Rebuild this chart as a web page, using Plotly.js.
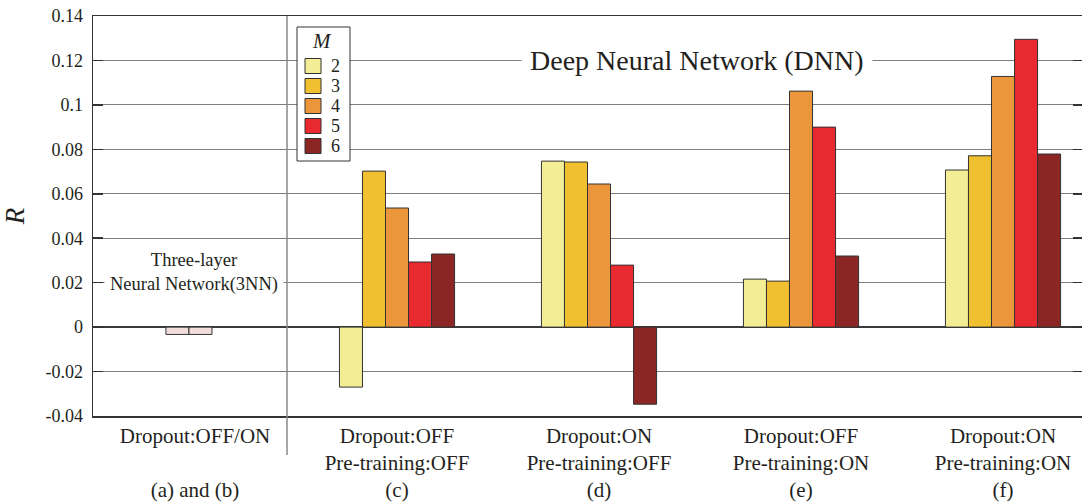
<!DOCTYPE html>
<html>
<head>
<meta charset="utf-8">
<script src="https://cdn.plot.ly/plotly-3.0.1.min.js"></script>
<style>html,body{margin:0;padding:0;overflow:hidden;background:#fff;}#chart{width:1083px;height:503px;}</style>
</head>
<body>
<div id="chart"></div>
<script>
// ---- data ----
const categories = ['(a) and (b)', '(c)', '(d)', '(e)', '(f)'];
const labelLine1 = ['Dropout:OFF/ON', 'Dropout:OFF', 'Dropout:ON', 'Dropout:OFF', 'Dropout:ON'];
const labelLine2 = ['\u00a0', 'Pre-training:OFF', 'Pre-training:OFF', 'Pre-training:ON', 'Pre-training:ON'];
const mNames = ['2', '3', '4', '5', '6'];
const rM2 = [null, -0.027, 0.0747, 0.0216, 0.0707];
const rM3 = [null, 0.0702, 0.0743, 0.0207, 0.0771];
const rM4 = [null, 0.0536, 0.0644, 0.1062, 0.1128];
const rM5 = [null, 0.0293, 0.0279, 0.0900, 0.1295];
const rM6 = [null, 0.0329, -0.0347, 0.0320, 0.0779];
const nnCategory = ['(a) and (b)'];
const rNNDropoutOff = [-0.0033];
const rNNDropoutOn = [-0.0033];
const yTickVals = [0.14, 0.12, 0.1, 0.08, 0.06, 0.04, 0.02, 0, -0.02, -0.04];
const yTickText = ['0.14', '0.12', '0.1', '0.08', '0.06', '0.04', '0.02', '0', '-0.02', '-0.04'];

// ---- style ----
const mColors = ['#f3ee96', '#f0c030', '#ec963c', '#e8292f', '#8b2625'];
const nnColor = '#f2dcdc';
const lineCol = '#333333';
const txtCol = '#231f20';
const serif = 'Liberation Serif';
const barW = 0.114;

const mSeries = [rM2, rM3, rM4, rM5, rM6];
const traces = [];
mSeries.forEach((vals, i) => {
  traces.push({
    type: 'bar', name: mNames[i], x: categories, y: vals,
    width: barW, offset: (i - 2.5) * barW,
    marker: {color: mColors[i], line: {color: lineCol, width: 1}},
    showlegend: false
  });
});
[rNNDropoutOff, rNNDropoutOn].forEach((vals, j) => {
  traces.push({
    type: 'bar', name: j === 0 ? '3NN Dropout:OFF' : '3NN Dropout:ON', x: nnCategory, y: vals,
    width: barW, offset: (j - 1) * barW - 0.03,
    marker: {color: nnColor, line: {color: lineCol, width: 1}},
    showlegend: false
  });
});

const tickText = categories.map((c, i) => labelLine1[i] + '<br>' + labelLine2[i] + '<br>' + c);

// pixel -> paper helpers for the hand-drawn legend box
const plotL = 93, plotW = 990, plotB = 416, plotH = 400;
const px = v => (v - plotL) / plotW;
const py = v => (plotB - v) / plotH;

const shapes = [
  {type: 'line', xref: 'paper', yref: 'paper', x0: px(287), x1: px(287), y0: py(455), y1: 1,
   line: {color: '#8a8a8a', width: 1.5}, layer: 'above'},
  {type: 'rect', xref: 'paper', yref: 'paper', x0: px(297), x1: px(350), y0: py(161), y1: py(27),
   fillcolor: '#fff', line: {color: lineCol, width: 1}, layer: 'above'}
];
const annotations = [
  {xref: 'paper', yref: 'y', x: px(697), y: 0.12, xanchor: 'center', yanchor: 'middle',
   text: 'Deep Neural Network (DNN)', showarrow: false,
   font: {family: serif, size: 28, color: txtCol}, bgcolor: '#fff', borderpad: 8},
  {xref: 'paper', yref: 'paper', x: px(194), y: py(272), xanchor: 'center', yanchor: 'middle',
   text: 'Three-layer<br>Neural Network(3NN)', showarrow: false,
   font: {family: serif, size: 18.5, color: txtCol}, bgcolor: '#fff', borderpad: 5},
  {xref: 'paper', yref: 'paper', x: px(322), y: py(41), xanchor: 'center', yanchor: 'middle',
   text: '<i>M</i>', showarrow: false, font: {family: serif, size: 21, color: txtCol}}
];
mNames.forEach((n, i) => {
  const cy = 66 + 20 * i;
  shapes.push({type: 'rect', xref: 'paper', yref: 'paper', x0: px(305), x1: px(321),
    y0: py(cy + 7.5), y1: py(cy - 7.5), fillcolor: mColors[i], line: {color: lineCol, width: 1}, layer: 'above'});
  annotations.push({xref: 'paper', yref: 'paper', x: px(335), y: py(cy), xanchor: 'center', yanchor: 'middle',
    text: n, showarrow: false, borderpad: 0, font: {family: serif, size: 18, color: txtCol}});
});

const layout = {
  width: 1083, height: 503,
  margin: {l: 93, r: 0, t: 16, b: 87},
  paper_bgcolor: '#fff', plot_bgcolor: '#fff',
  barmode: 'overlay',
  showlegend: false,
  font: {family: serif, color: txtCol},
  xaxis: {
    type: 'category', categoryorder: 'array', categoryarray: categories,
    range: [-0.505, 4.396],
    tickvals: categories, ticktext: tickText,
    tickfont: {family: serif, size: 21, color: txtCol},
    ticks: '', showgrid: false, zeroline: false,
    showline: true, linecolor: lineCol, linewidth: 1.5, mirror: true,
    ticklabelstandoff: 0
  },
  yaxis: {
    range: [-0.04, 0.14], tickvals: yTickVals, ticktext: yTickText,
    tickfont: {family: serif, size: 18, color: txtCol},
    ticks: 'inside', ticklen: 10, tickcolor: lineCol, tickwidth: 1.5,
    showline: true, linecolor: lineCol, linewidth: 1.5, mirror: 'all',
    showgrid: true, gridcolor: '#7d7d7d', gridwidth: 1,
    zeroline: true, zerolinecolor: '#3a3a3a', zerolinewidth: 1.5,
    ticklabelstandoff: 5,
    title: {text: '<i>R</i>', font: {family: serif, size: 27, color: txtCol}, standoff: 16}
  },
  annotations: annotations,
  shapes: shapes
};

Plotly.newPlot('chart', traces, layout, {displayModeBar: false, staticPlot: true});
</script>
</body>
</html>
